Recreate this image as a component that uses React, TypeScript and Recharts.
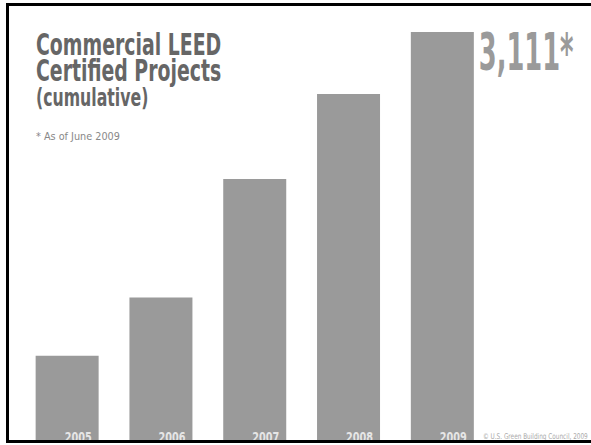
import { BarChart, Bar, XAxis, YAxis, LabelList } from "recharts";

const years = ["2005", "2006", "2007", "2008", "2009"];
const projects = [649, 1091, 1992, 2639, 3111];

const data = years.map((y, i) => ({ year: y, value: projects[i] }));

const BAR = "#9a9a9a";
const FONT = "'DejaVu Sans Condensed', 'DejaVu Sans', sans-serif";

// condensed text: the source uses a narrow DIN-like face, so squeeze horizontally
function Narrow({ x, y, sx, children, ...rest }: any) {
  return (
    <text transform={`translate(${x},${y}) scale(${sx},1)`} fontFamily={FONT} {...rest}>
      {children}
    </text>
  );
}

function YearLabel(props: any) {
  const { x, y, width, height, index } = props;
  const last = index === data.length - 1;
  return (
    <g>
      <Narrow x={x + width - 7} y={y + height + 1} sx={0.77} textAnchor="end"
        fill="#e6e6e6" fontSize={14} fontWeight={700}>
        {data[index].year}
      </Narrow>
      {last && (
        <Narrow x={x + width + 5} y={y + 38} sx={0.56} textAnchor="start"
          fill="#9a9a9a" fontSize={51} fontWeight={700}>
          {data[index].value.toLocaleString("en-US")}*
        </Narrow>
      )}
    </g>
  );
}

export default function App() {
  return (
    <div style={{ position: "fixed", left: 0, top: 0, width: 591, height: 445, background: "#fff", overflow: "hidden" }}>
      <BarChart width={591} height={445} data={data} barCategoryGap="16.67%"
        margin={{ top: 32, right: 102, bottom: 4, left: 20 }}>
        <XAxis dataKey="year" hide />
        <YAxis domain={[0, 3111]} hide />
        <Bar dataKey="value" fill={BAR} isAnimationActive={false}>
          <LabelList dataKey="value" content={<YearLabel />} />
        </Bar>
      </BarChart>

      <svg width={591} height={445} style={{ position: "absolute", left: 0, top: 0, pointerEvents: "none" }}>
        <Narrow x={36} y={55} sx={0.7} fontSize={30} fontWeight={700} fill="#666">Commercial LEED</Narrow>
        <Narrow x={36} y={81} sx={0.7} fontSize={30} fontWeight={700} fill="#666">Certified Projects</Narrow>
        <Narrow x={36} y={106} sx={0.7} fontSize={25} fontWeight={700} fill="#666">(cumulative)</Narrow>
        <Narrow x={36} y={140} sx={0.98} fontSize={11} fill="#888">* As of June 2009</Narrow>
        <Narrow x={483} y={439} sx={0.8} fontSize={8} fill="#aaa">© U.S. Green Building Council, 2009</Narrow>
        <path d="M 600 4.5 H 7.5 V 441.5 H 600" fill="none" stroke="#000" strokeWidth={3} />
      </svg>
    </div>
  );
}
